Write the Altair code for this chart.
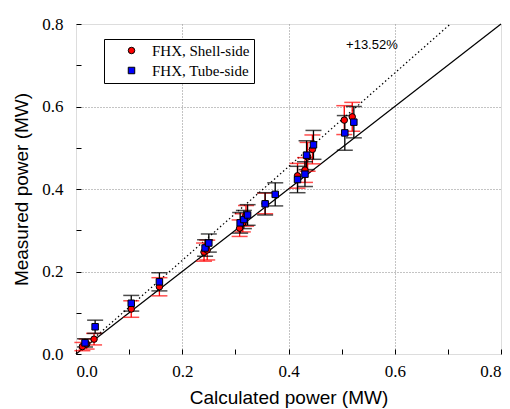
import altair as alt
import pandas as pd

# ---- data ----
shell_x = [0.012, 0.020, 0.034, 0.104, 0.157, 0.241, 0.247, 0.308, 0.314, 0.320, 0.356, 0.417, 0.431, 0.436, 0.445, 0.505, 0.520]
shell_y = [0.018, 0.024, 0.036, 0.109, 0.163, 0.247, 0.252, 0.305, 0.318, 0.335, 0.365, 0.432, 0.446, 0.478, 0.496, 0.567, 0.575]
shell_err = [0.010, 0.012, 0.014, 0.020, 0.022, 0.022, 0.024, 0.020, 0.022, 0.025, 0.025, 0.030, 0.030, 0.035, 0.035, 0.035, 0.035]

tube_x = [0.017, 0.036, 0.104, 0.157, 0.243, 0.250, 0.309, 0.316, 0.323, 0.356, 0.375, 0.417, 0.431, 0.434, 0.447, 0.506, 0.523]
tube_y = [0.027, 0.066, 0.123, 0.175, 0.257, 0.269, 0.318, 0.326, 0.337, 0.364, 0.387, 0.423, 0.436, 0.482, 0.507, 0.536, 0.562]
tube_err = [0.010, 0.016, 0.019, 0.022, 0.020, 0.022, 0.025, 0.022, 0.025, 0.027, 0.028, 0.032, 0.030, 0.035, 0.035, 0.042, 0.038]

series = ["FHX, Shell-side", "FHX, Tube-side"]
colors = ["#ff0000", "#0000ff"]
shapes = ["circle", "square"]

diag_x = [0.0, 0.8]
diag_y = [0.0, 0.8]
fit_x = [0.0, 0.7047]
fit_y = [0.0, 0.8]
fit_label = "+13.52%"
fit_label_x = 0.557
fit_label_y = 0.749

ticks = [0.0, 0.1, 0.2, 0.3, 0.4, 0.5, 0.6, 0.7, 0.8]

SERIF = "Liberation Serif"
SANS = "Liberation Sans"

# ---- tables ----
shell = pd.DataFrame({"x": shell_x, "y": shell_y, "lo": [a - b for a, b in zip(shell_y, shell_err)],
                      "hi": [a + b for a, b in zip(shell_y, shell_err)], "s": series[0]})
tube = pd.DataFrame({"x": tube_x, "y": tube_y, "lo": [a - b for a, b in zip(tube_y, tube_err)],
                     "hi": [a + b for a, b in zip(tube_y, tube_err)], "s": series[1]})
pts = pd.concat([shell, tube], ignore_index=True)
diag = pd.DataFrame({"x": diag_x, "y": diag_y})
fit = pd.DataFrame({"x": fit_x, "y": fit_y})
lab = pd.DataFrame({"x": [fit_label_x], "y": [fit_label_y], "t": [fit_label]})

xs = alt.Scale(domain=[0, 0.8], nice=False, zero=False)
ys = alt.Scale(domain=[0, 0.8], nice=False, zero=False)

label_expr = "round(datum.value*10) % 2 == 0 ? format(datum.value, '.1f') : ''"
grid_op = {"condition": {"test": "round(datum.value*10) % 2 == 0 && datum.value > 0.01 && datum.value < 0.79",
                         "value": 1}, "value": 0}

x_axis = alt.Axis(values=ticks, labelExpr=label_expr, title="Calculated power (MW)",
                  grid=True, gridColor="#888888", gridDash=[1, 2], gridOpacity=grid_op,
                  domain=False, tickColor="black", tickSize=5, offset=-5,
                  labelFont=SERIF, labelFontSize=17, labelColor="black", labelPadding=9,
                  titleFont=SANS, titleFontSize=19, titleFontWeight="normal",
                  titleColor="black", titlePadding=9)
y_axis = alt.Axis(values=ticks, labelExpr=label_expr, title="Measured power (MW)",
                  grid=True, gridColor="#888888", gridDash=[1, 2], gridOpacity=grid_op,
                  domain=False, tickColor="black", tickSize=5, offset=-5,
                  labelFont=SERIF, labelFontSize=17, labelColor="black", labelPadding=13,
                  titleFont=SANS, titleFontSize=19, titleFontWeight="normal",
                  titleColor="black", titlePadding=10)

X = lambda: alt.X("x:Q", scale=xs)
Y = lambda f="y": alt.Y(f + ":Q", scale=ys)

axes_main = alt.Chart(diag).mark_point(opacity=0).encode(
    x=alt.X("x:Q", scale=xs, axis=x_axis), y=alt.Y("y:Q", scale=ys, axis=y_axis))

diag_line = alt.Chart(diag).mark_line(color="black", strokeWidth=1.2).encode(x=X(), y=Y())
fit_line = alt.Chart(fit).mark_line(color="black", strokeWidth=1.2, strokeDash=[1.5, 2.5]).encode(x=X(), y=Y())

def errbars(df, color):
    rule = alt.Chart(df).mark_rule(color=color, strokeWidth=1.3).encode(
        x=X(), y=Y("lo"), y2="hi:Q")
    cap_lo = alt.Chart(df).mark_tick(color=color, orient="horizontal", size=16, thickness=1.5).encode(
        x=X(), y=Y("lo"))
    cap_hi = alt.Chart(df).mark_tick(color=color, orient="horizontal", size=16, thickness=1.5).encode(
        x=X(), y=Y("hi"))
    return [rule, cap_lo, cap_hi]

color_enc = alt.Color("s:N", scale=alt.Scale(domain=series, range=colors),
                      legend=alt.Legend(title=None, orient="none", legendX=28, legendY=15,
                                        strokeColor="black", fillColor="white",
                                        padding=4, rowPadding=4, labelFont=SERIF,
                                        labelFontSize=15, labelColor="black", symbolSize=42,
                                        symbolStrokeColor="black", symbolStrokeWidth=1,
                                        labelLimit=200, symbolOffset=16, labelOffset=13))
shape_enc = alt.Shape("s:N", scale=alt.Scale(domain=series, range=shapes))

markers = alt.Chart(pts).mark_point(filled=True, size=42, stroke="black", strokeWidth=1, opacity=1).encode(
    x=X(), y=Y(), color=color_enc, shape=shape_enc)

text = alt.Chart(lab).mark_text(font=SANS, fontSize=13, color="black").encode(
    x=X(), y=Y(), text="t:N")

layers = [axes_main, diag_line, fit_line] + errbars(shell, "#ff0000") + errbars(tube, "black") + [markers, text]

chart = alt.layer(*layers).properties(
    width=425, height=330,
    autosize=alt.AutoSizeParams(type="none"),
    padding={"left": 68, "top": 16, "right": 1, "bottom": 60},
).configure_view(stroke="black", strokeWidth=1.5).configure_axis(
    labelFont=SERIF, labelFontSize=17, labelColor="black",
    titleFont=SANS, titleFontSize=19, titleFontWeight="normal", titleColor="black"
).configure_legend(labelFont=SERIF, labelFontSize=15).configure(
    background="white",
    style={"guide-label": {"font": SERIF, "fontSize": 17}, "guide-title": {"font": SANS, "fontSize": 19}},
)

chart.save("out.html", embed_options={"renderer": "svg", "actions": False})
